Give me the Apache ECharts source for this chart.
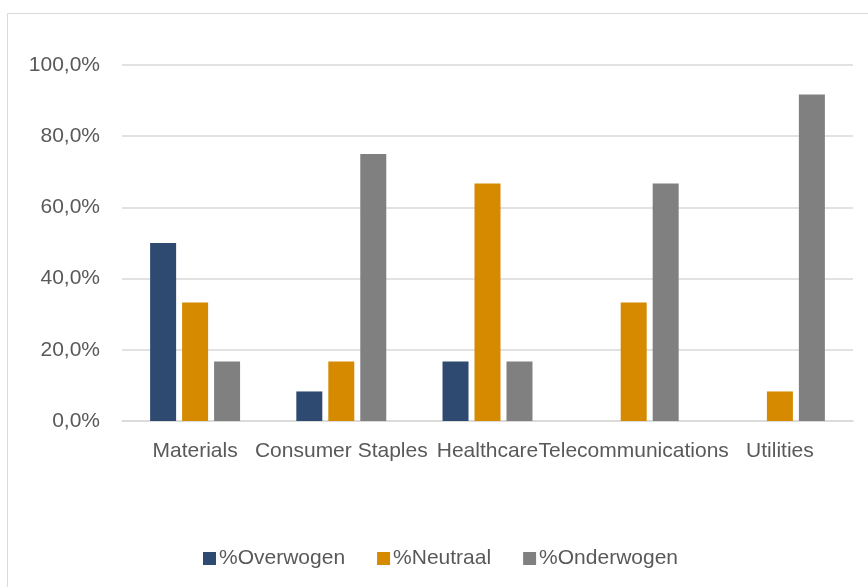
<!DOCTYPE html>
<html>
<head>
<meta charset="utf-8">
<script src="https://cdn.jsdelivr.net/npm/echarts@6/dist/echarts.min.js"></script>
<style>
  html, body { margin: 0; padding: 0; background: #fff; }
  #main { width: 868px; height: 587px; }
</style>
</head>
<body>
<div id="main"></div>
<script>
// sectoren en percentages
var categories = ['Materials', 'Consumer Staples', 'Healthcare', 'Telecommunications', 'Utilities'];
var overwogen  = [50.0, 8.3, 16.7, 0, 0];
var neutraal   = [33.3, 16.7, 66.7, 33.3, 8.3];
var onderwogen = [16.7, 75.0, 16.7, 66.7, 91.7];
var seriesNames = ['%Overwogen', '%Neutraal', '%Onderwogen'];

var fontFamily = '"Liberation Sans", Arial, sans-serif';

var makeBar = function (name, data, color) {
  return {
    name: name,
    type: 'bar',
    data: data,
    barWidth: 26,
    barGap: '23%',
    itemStyle: { color: color },
    emphasis: { disabled: true }
  };
};

var chart = echarts.init(document.getElementById('main'));
chart.setOption({
  backgroundColor: '#fff',
  animation: false,
  textStyle: { fontFamily: fontFamily },
  graphic: [{
    type: 'rect',
    shape: { x: 7.5, y: 13.5, width: 900, height: 700 },
    style: { fill: 'none', stroke: '#d9d9d9', lineWidth: 1 },
    silent: true
  }],
  grid: { left: 122, right: 15, top: 65, bottom: 166, containLabel: false },
  legend: {
    data: seriesNames,
    left: 203,
    top: 548,
    padding: 0,
    icon: 'rect',
    itemWidth: 13,
    itemHeight: 13,
    itemGap: 32,
    textStyle: { color: '#595959', fontSize: 21, fontFamily: fontFamily, padding: [0, 0, 0, -2] }
  },
  xAxis: {
    type: 'category',
    data: categories,
    axisLine: { lineStyle: { color: '#d9d9d9', width: 1.5 } },
    axisTick: { show: false },
    axisLabel: { color: '#595959', fontSize: 21, margin: 20, interval: 0 }
  },
  yAxis: {
    type: 'value',
    min: 0,
    max: 100,
    interval: 20,
    axisLine: { show: false },
    axisTick: { show: false },
    splitLine: { lineStyle: { color: '#d9d9d9', width: 1.5 } },
    axisLabel: {
      color: '#595959',
      fontSize: 21,
      margin: 22,
      formatter: function (v) { return v.toFixed(1).replace('.', ',') + '%'; }
    }
  },
  series: [
    makeBar(seriesNames[0], overwogen, '#2e4a70'),
    makeBar(seriesNames[1], neutraal, '#d68a00'),
    makeBar(seriesNames[2], onderwogen, '#808080')
  ]
});
</script>
</body>
</html>
